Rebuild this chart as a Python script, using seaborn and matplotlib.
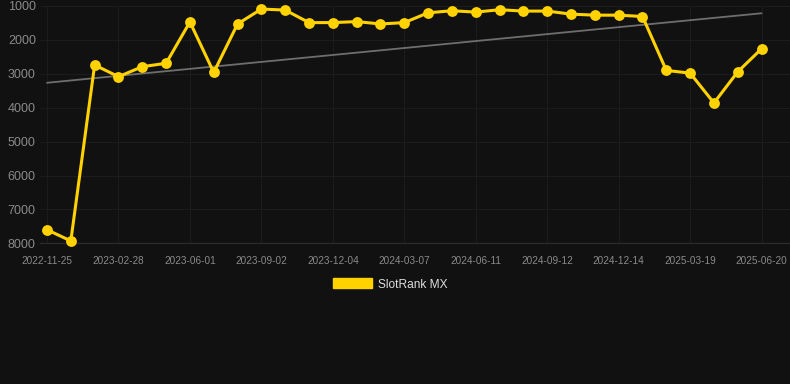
import numpy as np
import pandas as pd
import matplotlib
matplotlib.use("Agg")
import matplotlib.pyplot as plt
import seaborn as sns
from matplotlib.patches import Patch

# -------- DATA --------
dates = ["2022-11-25", "2022-12-27", "2023-01-28", "2023-02-28", "2023-03-31",
         "2023-05-01", "2023-06-01", "2023-07-02", "2023-08-02", "2023-09-02",
         "2023-10-03", "2023-11-03", "2023-12-04", "2024-01-04", "2024-02-05",
         "2024-03-07", "2024-04-08", "2024-05-10", "2024-06-11", "2024-07-12",
         "2024-08-12", "2024-09-12", "2024-10-13", "2024-11-13", "2024-12-14",
         "2025-01-14", "2025-02-16", "2025-03-19", "2025-04-19", "2025-05-20",
         "2025-06-20"]
rank = [7600, 7930, 2740, 3085, 2790, 2690, 1470, 2960, 1530, 1090,
        1120, 1490, 1490, 1460, 1530, 1490, 1200, 1140, 1180, 1110,
        1150, 1150, 1240, 1270, 1270, 1310, 2900, 2980, 3860, 2940,
        2260]
y_ticks = [1000, 2000, 3000, 4000, 5000, 6000, 7000, 8000]
series_name = "SlotRank MX"

df = pd.DataFrame({"date": dates, "rank": rank})
df["idx"] = np.arange(len(df))

# linear trend over the points
coef = np.polyfit(df["idx"], df["rank"], 1)
df["trend"] = np.polyval(coef, df["idx"])

# -------- STYLE --------
BG = "#111111"
YELLOW = "#FFD200"
sns.set_style("dark")
plt.rcParams["font.family"] = ["Liberation Sans", "DejaVu Sans"]

fig = plt.figure(figsize=(7.9, 3.84), dpi=100, facecolor=BG)
W, H = 790, 384
ax = fig.add_axes([40 / W, 1 - 243.3 / H, 750 / W, (243.3 - 6) / H])
ax.set_facecolor(BG)

sns.lineplot(data=df, x="idx", y="trend", ax=ax, color="#6e6e6e", linewidth=1.3, zorder=2)
sns.lineplot(data=df, x="idx", y="rank", ax=ax, color=YELLOW, linewidth=2.2,
             marker="o", markersize=7.8, markeredgewidth=0, zorder=3,
             label=series_name)
for ln in ax.lines:
    ln.set_clip_on(False)

ax.set_ylim(8000, 1000)
ax.set_xlim(-7 / 23.82, 743 / 23.82)
ax.set_yticks(y_ticks)
ax.set_yticklabels([str(v) for v in y_ticks], fontsize=9, color="#8a8a8a")
ax.set_xticks(df["idx"][::3])
ax.set_xticklabels(df["date"][::3], fontsize=7.2, color="#8a8a8a")
ax.tick_params(axis="x", length=0, pad=9)
ax.tick_params(axis="y", length=0, pad=3)
ax.set_xlabel("")
ax.set_ylabel("")

ax.grid(True, color="#1c1c1c", linewidth=0.8)
for s in ["top", "right", "left"]:
    ax.spines[s].set_visible(False)
ax.spines["bottom"].set_color("#2a2a2a")
ax.spines["bottom"].set_linewidth(1)

ax.legend_.remove()
fig.legend(handles=[Patch(facecolor=YELLOW, edgecolor=YELLOW)], labels=[series_name],
           loc="center", bbox_to_anchor=(390 / W, 1 - 284.5 / H), frameon=False,
           fontsize=8.6, labelcolor="#dddddd", handlelength=3.3, handleheight=0.9,
           handletextpad=0.5)

fig.savefig("out.png", dpi=100, facecolor=BG)
